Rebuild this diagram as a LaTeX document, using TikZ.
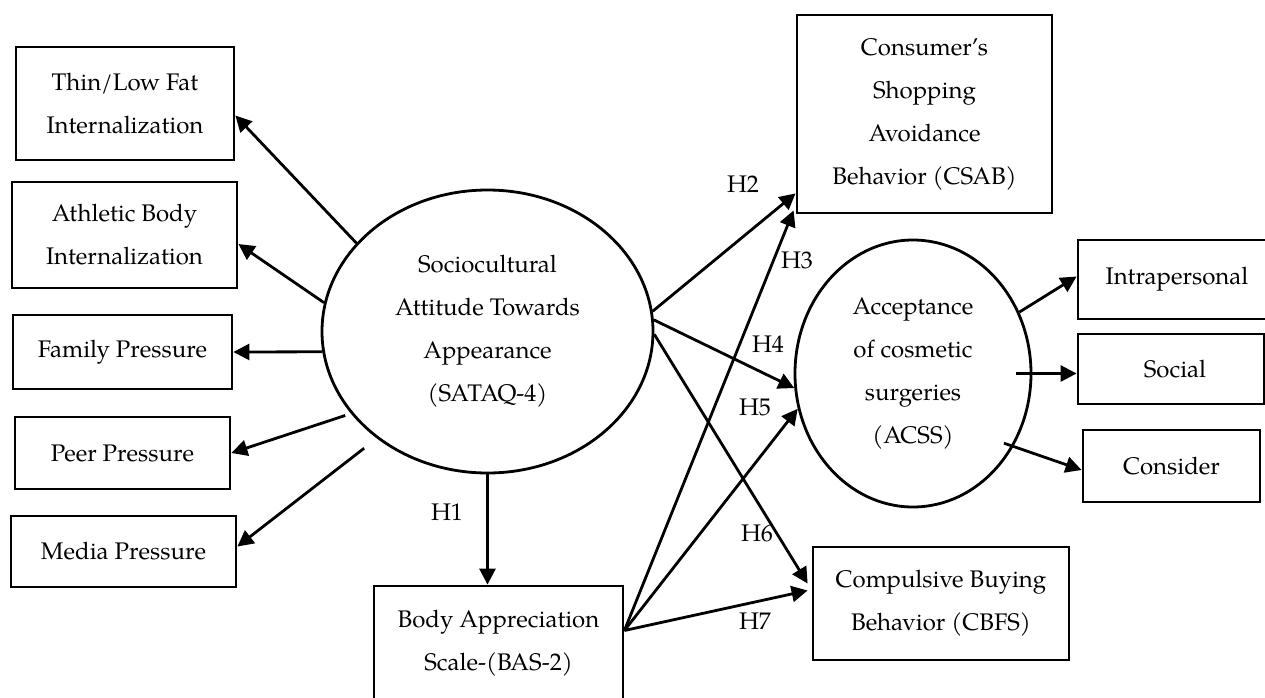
\documentclass[tikz,border=0pt]{standalone}
\usepackage{fontspec}
\setmainfont{TeX Gyre Pagella}
\usetikzlibrary{arrows.meta,shapes.geometric,calc}
\begin{document}
\begin{tikzpicture}[x=0.5pt,y=-0.5pt,
  every node/.style={font=\fontsize{12}{21.5}\selectfont},
  box/.style={draw,line width=1.4pt,inner sep=0pt,align=center},
  oval/.style={draw,ellipse,line width=1.4pt,inner sep=0pt,align=center},
  arr/.style={line width=1.4pt,-{Triangle[length=8pt,width=8pt]}},
  hlab/.style={inner sep=0pt}]
\useasboundingbox (0,0) rectangle (1265,697);
% left boxes
\node[box,minimum width=109pt,minimum height=56.5pt] (thin) at (125,103.5) {Thin/Low Fat\\Internalization};
\node[box,minimum width=112.5pt,minimum height=53pt] (ath) at (124.5,235) {Athletic Body\\Internalization};
\node[box,minimum width=109.5pt,minimum height=37pt] (fam) at (122.5,352) {Family Pressure};
\node[box,minimum width=107.5pt,minimum height=36pt] (peer) at (122.5,453) {Peer Pressure};
\node[box,minimum width=112.5pt,minimum height=35.5pt] (media) at (123.5,551.5) {Media Pressure};
% central ellipse
\node[oval,minimum width=165.5pt,minimum height=141.5pt] (sat) at (487.5,331.5) {Sociocultural\\Attitude Towards\\Appearance\\(SATAQ-4)};
% BAS
\node[box,minimum width=124.5pt,minimum height=57.5pt] (bas) at (498.5,643.5) {Body Appreciation\\Scale-(BAS-2)};
% right side
\node[box,minimum width=127.5pt,minimum height=99pt] (csab) at (924.5,114) {Consumer’s\\Shopping\\Avoidance\\Behavior (CSAB)};
\node[oval,minimum width=118pt,minimum height=133.5pt] (acss) at (913,373.5) {Acceptance\\of cosmetic\\surgeries\\(ACSS)};
\node[box,minimum width=128pt,minimum height=56.5pt] (cbfs) at (941,603.5) {Compulsive Buying\\Behavior (CBFS)};
\node[box,minimum width=99pt,minimum height=39.5pt] (intra) at (1177,279.5) {Intrapersonal};
\node[box,minimum width=93pt,minimum height=35pt] (social) at (1171,369) {\hspace{4pt}Social};
\node[box,minimum width=88.5pt,minimum height=36pt] (consider) at (1171.5,466) {Consider};
% arrows to left boxes
\draw[arr] (sat.146.1) -- ($(thin.east)+(0,12)$);
\draw[arr] (sat.170.2) -- ($(ath.east)+(0,9)$);
\draw[arr] (sat.187.1) -- (fam.east);
\draw[arr,shorten <=3pt] (sat.211) -- (peer.east);
\draw[arr,shorten <=8pt] (sat.224.8) -- ($(media.east)+(0,-5)$);
% H1
\draw[arr] (sat.south) -- (sat.south |- bas.north);
\node[hlab] (l1) at (447,512) {H1};
% from SATAQ
\coordinate (bv) at ($(bas.east)+(0,-13)$);
\draw[arr] (sat.7.5) -- ($(csab.south west)+(0,-21)$);
\draw[arr] (sat.4.3) -- (acss.187.1);
\draw[arr] (sat.-1) -- ($(cbfs.west)+(-4,-20)$);
% from BAS
\draw[arr] (bv) -- ($(csab.south west)+(-2,-4)$);
\draw[arr] (bv) -- (acss.197.5);
\draw[arr] (bv) -- ($(cbfs.west)+(-4,-13)$);
% labels
\node[hlab] (l2) at (743,184) {H2};
\node[hlab] (l3) at (797,260) {H3};
\node[hlab] (l4) at (768,344) {H4};
\node[hlab] (l5) at (755,407) {H5};
\node[hlab] (l6) at (757,533) {H6};
\node[hlab] (l7) at (755,621) {H7};
% from ACSS
\draw[arr] (acss.30.8) -- ($(intra.west)+(0,-3)$);
\draw[arr,shorten <=-8pt] (acss.east) -- (acss.east -| social.west);
\draw[arr,shorten <=-5pt] (acss.-36.8) -- ($(consider.west)+(0,4)$);
\end{tikzpicture}
\end{document}
